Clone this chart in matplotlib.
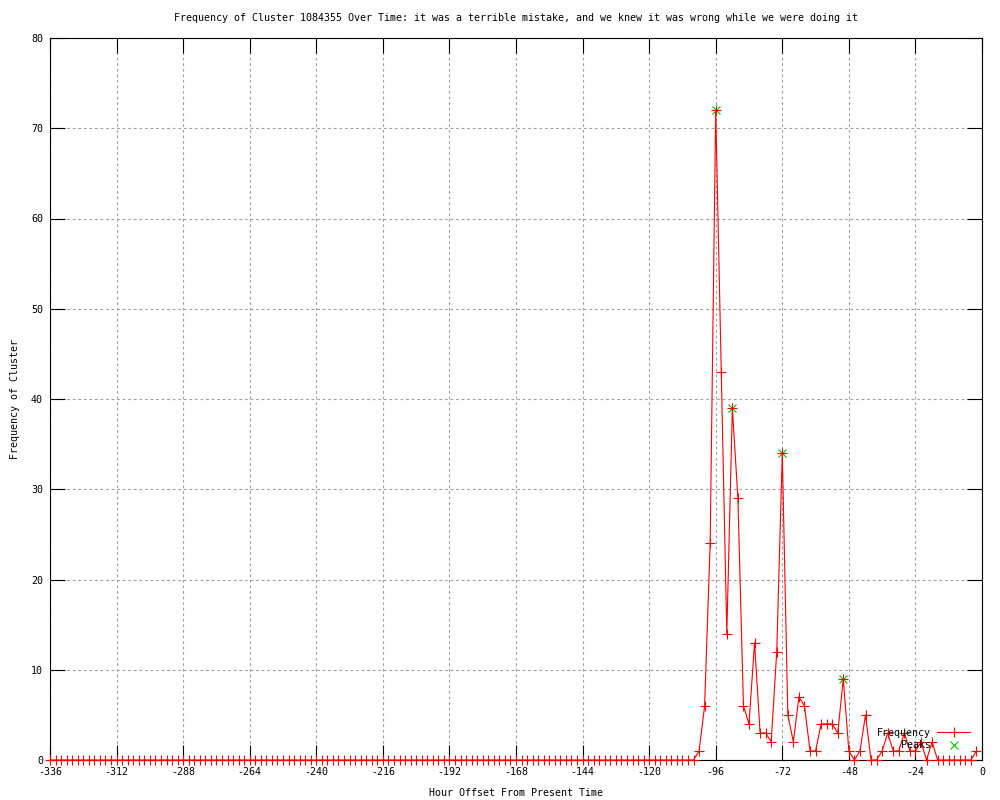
import numpy as np
import matplotlib
matplotlib.use("Agg")
import matplotlib.pyplot as plt
from matplotlib.lines import Line2D

plt.rcParams['font.family'] = ['DejaVu Sans Mono']
plt.rcParams['axes.unicode_minus'] = False

# hour offsets, every 2 hours
hours = list(range(-336, 0, 2))

# nonzero counts, everything else is 0
nonzero = {
    -102: 1, -100: 6, -98: 24, -96: 72, -94: 43, -92: 14, -90: 39, -88: 29,
    -86: 6, -84: 4, -82: 13, -80: 3, -78: 3, -76: 2, -74: 12, -72: 34,
    -70: 5, -68: 2, -66: 7, -64: 6, -62: 1, -60: 1, -58: 4, -56: 4,
    -54: 4, -52: 3, -50: 9, -48: 1, -46: 0, -44: 1, -42: 5, -40: 0,
    -38: 0, -36: 1, -34: 3, -32: 1, -30: 1, -28: 3, -26: 1, -24: 1,
    -22: 2, -20: 0, -18: 2, -2: 1,
}
freq = [nonzero.get(h, 0) for h in hours]

peak_hours = [-96, -90, -72, -50]
peak_vals = [72, 39, 34, 9]

xticks = list(range(-336, 1, 24))
yticks = list(range(0, 81, 10))

fig = plt.figure(figsize=(10, 8), dpi=100)
ax = fig.add_axes([0.05, 0.05, 0.932, 0.9025])

ax.plot(peak_hours, peak_vals, color='#00c000', lw=0, marker='x', ms=6,
        mew=0.8, clip_on=False, zorder=3, label='Peaks')
ax.plot(hours, freq, color='red', lw=0.8, marker='+', ms=7, mew=0.8,
        clip_on=False, zorder=4, label='Frequency')

ax.set_xlim(-336, 0)
ax.set_ylim(0, 80)
ax.set_xticks(xticks)
ax.set_yticks(yticks)
ax.tick_params(direction='in', length=11, width=0.8, top=True, right=True,
               labelsize=7.2, pad=5, colors='black')
ax.grid(True, color='#a0a0a0', linestyle=(0, (2.5, 2.5)), lw=0.8)
for s in ax.spines.values():
    s.set_linewidth(0.8)

ax.set_title('Frequency of Cluster 1084355 Over Time: it was a terrible mistake, '
             'and we knew it was wrong while we were doing it', fontsize=7.2, pad=12)
ax.set_xlabel('Hour Offset From Present Time', fontsize=7.2, labelpad=8)
ax.set_ylabel('Frequency of Cluster', fontsize=7.2, labelpad=8)

handles = [Line2D([], [], color='red', lw=0.8, marker='+', ms=7, mew=0.8),
           Line2D([], [], color='#00c000', lw=0, marker='x', ms=6, mew=0.8)]
ax.legend(handles, ['Frequency', 'Peaks'], loc='lower right', frameon=False,
          markerfirst=False, fontsize=7.2, handlelength=3.3, handletextpad=0.6,
          labelspacing=0.25, borderaxespad=0.6, bbox_to_anchor=(0.998, 0.0))

fig.savefig('out.png', dpi=100)
